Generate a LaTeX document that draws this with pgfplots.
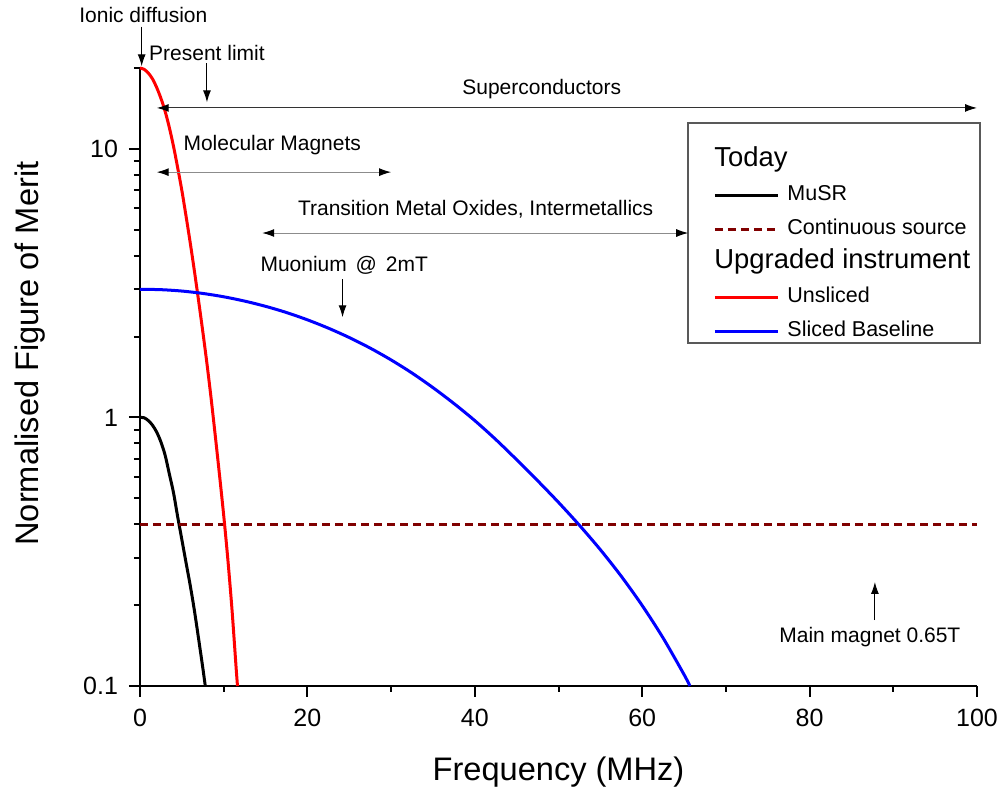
\documentclass[border=0pt]{standalone}
\usepackage{fontspec}
\setmainfont{Liberation Sans}
\usepackage{pgfplots}
\pgfplotsset{compat=1.18}
\usetikzlibrary{arrows.meta}
\definecolor{dred}{RGB}{128,0,0}
\definecolor{cblue}{RGB}{0,0,255}
\definecolor{cred}{RGB}{255,0,0}
\newcommand{\ann}{\fontsize{10.5}{12}\selectfont}
\newcommand{\hdr}{\fontsize{13.7}{15}\selectfont}
\tikzset{
  blk/.style={line width=0.5pt, black, -{Latex[length=6pt,width=4pt]}},
  dbl/.style={line width=0.5pt, black!80, {Latex[length=6pt,width=4pt,black]}-{Latex[length=6pt,width=4pt,black]}},
  gdbl/.style={line width=0.5pt, black!45, {Latex[length=6pt,width=4pt,black]}-{Latex[length=6pt,width=4pt,black]}},
}
\begin{document}
\begin{tikzpicture}
\useasboundingbox (0,0) rectangle (500.5pt,394.5pt);
\begin{axis}[
  at={(70pt,51.5pt)}, anchor=south west,
  scale only axis, width=418.5pt, height=309pt,
  ymode=log, xmin=0, xmax=100, ymin=0.1, ymax=20,
  axis lines*=left,
  axis line style={line width=1pt},
  clip=false,
  xtick={0,20,40,60,80,100}, minor xtick={10,30,50,70,90},
  ytick={0.1,1,10}, yticklabels={0.1,1,10},
  minor ytick={0.2,0.3,0.4,0.5,0.6,0.7,0.8,0.9,2,3,4,5,6,7,8,9,20},
  tick align=outside,
  major tick length=5.5pt, minor tick length=3pt,
  tick style={black, line width=1pt},
  tick label style={font=\fontsize{12.5}{15}\selectfont},
  /pgf/number format/assume math mode=true,
  xticklabel style={yshift=-2.75pt},
  yticklabel style={xshift=-2pt},
  xlabel={Frequency (MHz)},
  ylabel={Normalised Figure of Merit},
  xlabel style={font=\fontsize{16.3}{19}\selectfont, at={(axis description cs:0.5,-0.139)}, anchor=center},
  ylabel style={font=\fontsize{16.3}{19}\selectfont, at={(axis description cs:-0.131,0.538)}, anchor=center},
  legend cell align=left,
  legend style={at={(axis description cs:0.6655,0.8895)}, anchor=north west,
    draw=none, fill=none, font=\fontsize{10.75}{12}\selectfont,
    inner xsep=8pt, inner ysep=6pt, row sep=4.5pt, column sep=3pt,
    nodes={inner sep=1pt, text height=8pt, text depth=2.5pt}},
  legend image code/.code={\draw[#1] (0pt,0pt) -- (31.5pt,0pt);},
]
\addlegendimage{empty legend}
\addlegendentry{\hspace*{-36.5pt}{\hdr Today}}

\addplot[black, line width=1.5pt, smooth] coordinates {
(0,1.000) (0.5,0.997) (1,0.973) (1.5,0.935) (2,0.881) (2.5,0.81) (3,0.724)
(3.5,0.617) (4,0.525) (4.5,0.427) (5,0.351) (5.5,0.288) (6,0.237) (6.5,0.191)
(7,0.150) (7.5,0.117) (7.8,0.100)};
\addlegendentry{MuSR}

\addplot[dred, line width=1.5pt, dash pattern=on 4pt off 2.5pt] coordinates {(0,0.4) (100,0.4)};
\addlegendentry{Continuous source}

\addlegendimage{empty legend}
\addlegendentry{\hspace*{-36.5pt}{\hdr Upgraded instrument}}

\addplot[cred, line width=1.5pt, smooth] coordinates {
(0,20.0) (0.5,19.77) (1,19.14) (1.5,18.20) (2,16.90) (2.5,15.42) (3,13.80)
(3.5,12.02) (4,10.23) (4.5,8.51) (5,7.00) (5.5,5.62) (6,4.47) (6.5,3.51)
(7,2.72) (7.5,2.09) (8,1.585) (8.5,1.175) (9,0.851) (9.5,0.610) (10,0.432)
(10.5,0.295) (11,0.191) (11.5,0.115) (11.65,0.100)};
\addlegendentry{Unsliced}

\addplot[cblue, line width=1.5pt, smooth] coordinates {
(0,3.000) (2.5,2.990) (5,2.955) (7.5,2.895) (10,2.813) (12.5,2.711) (15,2.592)
(17.5,2.458) (20,2.309) (22.5,2.150) (25,1.984) (27.5,1.812) (30,1.637)
(32.5,1.463) (35,1.291) (37.5,1.127) (40,0.973) (42.5,0.828) (45,0.696)
(47.5,0.5816) (50,0.4828) (52.5,0.3968) (55,0.3218) (57.5,0.2562) (60,0.1994)
(62.5,0.1509) (65,0.1103) (65.7,0.100)};
\addlegendentry{Sliced Baseline}

% legend frame
\draw[black!65, line width=0.75pt] (axis description cs:0.6547,0.911) rectangle (axis description cs:1.0036,0.555);

% annotations
\node[font=\ann, inner sep=0pt] at (axis cs:0.4,31.4) {Ionic diffusion};
\draw[blk] (axis cs:0.2,28.5) -- (axis cs:0.2,20.3);
\node[font=\ann, inner sep=0pt] at (axis cs:8.0,22.8) {Present limit};
\draw[blk] (axis cs:8,20.8) -- (axis cs:8,14.9);
\draw[dbl] (axis cs:2,14.2) -- (axis cs:100,14.2);
\node[font=\ann, inner sep=0pt] at (axis cs:48,16.7) {Superconductors};
\node[font=\ann, inner sep=0pt] at (axis cs:15.8,10.3) {Molecular Magnets};
\draw[gdbl] (axis cs:2,8.19) -- (axis cs:30,8.19);
\node[font=\ann, inner sep=0pt] at (axis cs:40.1,5.97) {Transition Metal Oxides, Intermetallics};
\draw[gdbl] (axis cs:14.6,4.86) -- (axis cs:65.5,4.86);
\node[font=\ann, inner sep=0pt] at (axis cs:24.4,3.69) {Muonium\hspace{1.5pt} @\hspace{1.5pt} 2mT};
\draw[blk] (axis cs:24.2,3.27) -- (axis cs:24.2,2.36);
\node[font=\ann, inner sep=0pt] at (axis cs:87.2,0.152) {Main magnet 0.65T};
\draw[blk] (axis cs:87.8,0.176) -- (axis cs:87.8,0.244);
\end{axis}
\end{tikzpicture}
\end{document}
